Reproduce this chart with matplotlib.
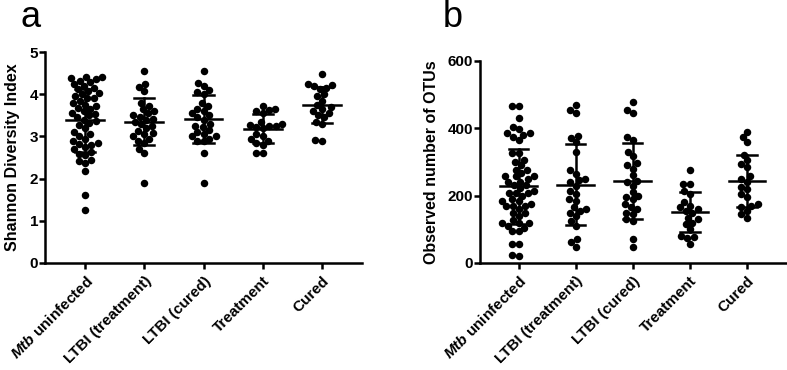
import numpy as np
import matplotlib
matplotlib.use("Agg")
import matplotlib.pyplot as plt

plt.rcParams['font.family'] = ['Liberation Sans', 'DejaVu Sans']
plt.rcParams['font.weight'] = 'bold'
plt.rcParams['mathtext.fontset'] = 'custom'
plt.rcParams['mathtext.it'] = 'Liberation Sans:italic:bold'
plt.rcParams['mathtext.rm'] = 'Liberation Sans:bold'

categories = [r'$\mathit{Mtb}$ uninfected', 'LTBI (treatment)', 'LTBI (cured)', 'Treatment', 'Cured']

shannon_uninfected = [1.25, 1.62, 2.17, 2.37, 2.41, 2.45, 2.55, 2.59, 2.62, 2.7, 2.76, 2.8, 2.83, 2.85,
                      2.88, 2.95, 3.0, 3.05, 3.1, 3.2, 3.28, 3.32, 3.36, 3.4, 3.45, 3.5, 3.52, 3.55, 3.6,
                      3.65, 3.68, 3.72, 3.75, 3.78, 3.85, 3.9, 3.92, 3.95, 4.0, 4.03, 4.07, 4.12, 4.15,
                      4.2, 4.25, 4.28, 4.32, 4.35, 4.38, 4.4, 4.4]
shannon_ltbi_treat = [4.55, 4.25, 4.18, 4.08, 3.8, 3.72, 3.65, 3.6, 3.5, 3.47, 3.42, 3.4, 3.35, 3.3,
                      3.25, 3.2, 3.12, 3.08, 3.05, 3.0, 2.95, 2.9, 2.85, 2.7, 2.6, 1.9, 3.55]
shannon_ltbi_cured = [4.55, 4.27, 4.2, 4.1, 4.05, 4.0, 3.8, 3.72, 3.65, 3.6, 3.55, 3.5, 3.45, 3.4,
                      3.3, 3.22, 3.15, 3.1, 3.05, 3.0, 3.0, 2.95, 2.9, 2.88, 2.6, 1.9, 3.25]
shannon_treatment = [3.72, 3.65, 3.62, 3.6, 3.55, 3.35, 3.3, 3.27, 3.25, 3.22, 3.2, 3.05, 3.0, 2.95,
                     2.88, 2.85, 2.8, 2.6, 2.6, 3.25]
shannon_cured = [4.47, 4.25, 4.22, 4.2, 4.15, 4.12, 4.0, 3.95, 3.85, 3.75, 3.7, 3.65, 3.6, 3.55,
                 3.5, 3.45, 3.35, 3.3, 2.9, 2.92]

otu_uninfected = [465, 465, 430, 405, 397, 385, 385, 380, 375, 366, 326, 326, 306, 277, 277, 267,
                  257, 257, 257, 242, 232, 232, 222, 207, 207, 207, 190, 183, 183, 168, 168, 168,
                  148, 148, 128, 118, 118, 118, 104, 94, 94, 55, 55, 20, 25,
                  240, 215, 175, 160, 290, 140, 200, 250, 110, 300]
otu_ltbi_treat = [470, 455, 447, 376, 371, 358, 331, 275, 264, 247, 240, 230, 215, 205, 190, 165,
                  160, 155, 150, 125, 110, 71, 61, 47, 250, 185, 140]
otu_ltbi_cured = [478, 455, 447, 375, 365, 330, 318, 296, 290, 280, 260, 245, 240, 200, 195, 190,
                  165, 160, 150, 145, 130, 125, 70, 48, 230, 210, 175]
otu_treatment = [275, 235, 235, 215, 205, 180, 170, 165, 155, 150, 135, 130, 120, 115, 100, 80, 78,
                 75, 57, 160]
otu_cured = [390, 375, 360, 322, 305, 295, 285, 258, 250, 225, 220, 205, 195, 175, 170, 165, 155,
             145, 135, 240]

shannon_groups = [shannon_uninfected, shannon_ltbi_treat, shannon_ltbi_cured, shannon_treatment, shannon_cured]
otu_groups = [otu_uninfected, otu_ltbi_treat, otu_ltbi_cured, otu_treatment, otu_cured]

W, H = 787, 370
fig = plt.figure(figsize=(W / 100, H / 100), dpi=100)


def px_axes(left, right, top, bottom):
    return fig.add_axes([left / W, (H - bottom) / H, (right - left) / W, (bottom - top) / H])


def swarm(ypx, d):
    order = np.argsort(ypx)
    placed = []
    xs = np.zeros(len(ypx))
    for i in order:
        y = ypx[i]
        cands = [0.0]
        for (px, py) in placed:
            dy = abs(y - py)
            if dy < d:
                dx = np.sqrt(d * d - dy * dy)
                cands += [px + dx, px - dx]
        valid = [c for c in cands
                 if all((c - px) ** 2 + (y - py) ** 2 >= d * d - 1e-6 for px, py in placed)]
        best = min(valid, key=lambda c: (round(abs(c), 6), c))
        xs[i] = best
        placed.append((best, y))
    return xs


def draw_panel(ax, groups, ylim, yticks, ylabel, xlim, label_x):
    ax.set_xlim(*xlim)
    ax.set_ylim(*ylim)
    t = ax.transData
    p0 = t.transform((0, 0))
    p1 = t.transform((1, 1))
    sx = p1[0] - p0[0]
    sy = p1[1] - p0[1]
    for i, g in enumerate(groups):
        g = np.asarray(g, dtype=float)
        ypx = g * sy
        offs = swarm(ypx, 6.6) / sx
        ax.plot(i + offs, g, 'o', color='black', markersize=5.4, markeredgewidth=0,
                clip_on=False, zorder=3)
        m = g.mean()
        s = g.std(ddof=1)
        ax.plot([i - 0.32, i + 0.32], [m, m], color='black', lw=1.8, zorder=4)
        ax.plot([i, i], [m - s, m + s], color='black', lw=1.8, zorder=4)
        ax.plot([i - 0.17, i + 0.17], [m + s, m + s], color='black', lw=1.8, zorder=4)
        ax.plot([i - 0.17, i + 0.17], [m - s, m - s], color='black', lw=1.8, zorder=4)
    for sp in ['top', 'right']:
        ax.spines[sp].set_visible(False)
    for sp in ['left', 'bottom']:
        ax.spines[sp].set_linewidth(1.8)
    ax.set_yticks(yticks)
    ax.set_xticks(range(len(categories)))
    ax.set_xticklabels(categories, rotation=45, ha='right', rotation_mode='anchor', fontsize=11,
                       fontweight='bold')
    ax.tick_params(axis='both', length=4, width=1.8, pad=1)
    ax.tick_params(axis='y', labelsize=11)
    ax.tick_params(axis='x', pad=4)
    ax.set_ylabel(ylabel, fontsize=11.5, fontweight='bold')
    ax.yaxis.set_label_coords(label_x, 0.5)


ax1 = px_axes(45, 362, 52, 263)
draw_panel(ax1, shannon_groups, (0, 5), [0, 1, 2, 3, 4, 5], 'Shannon Diversity Index',
           (-0.675, 4.675), -0.08)

ax2 = px_axes(480, 786, 61, 263)
draw_panel(ax2, otu_groups, (0, 600), [0, 200, 400, 600], 'Observed number of OTUs',
           (-0.675, 4.684), -0.135)

fig.text(20 / W, (H - 27) / H, 'a', fontsize=26, fontweight='normal', va='baseline', ha='left')
fig.text(443 / W, (H - 27) / H, 'b', fontsize=26, fontweight='normal', va='baseline', ha='left')

fig.savefig('out.png', dpi=100)
